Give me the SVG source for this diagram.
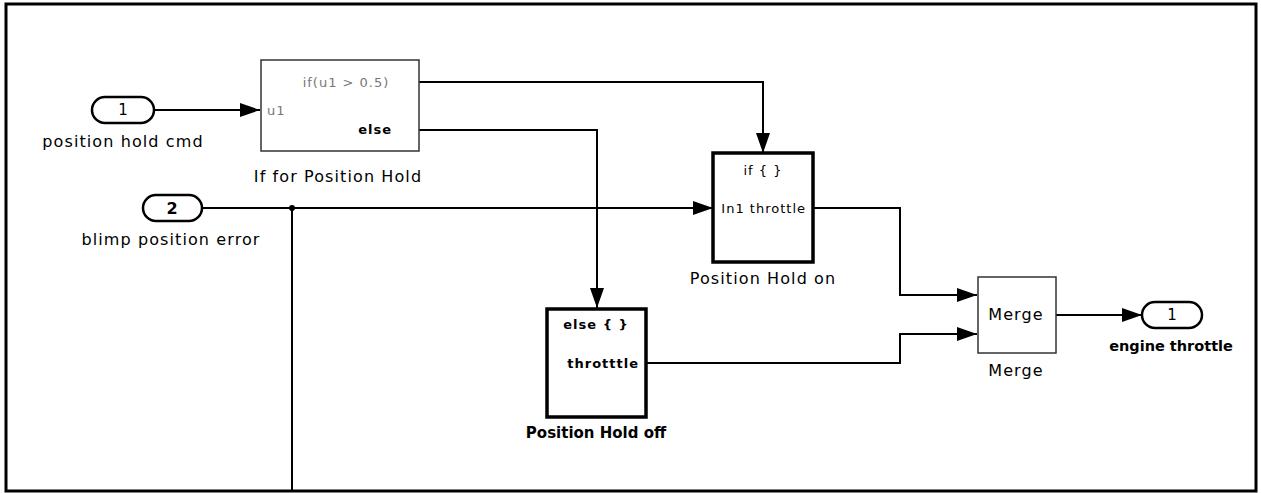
<svg xmlns="http://www.w3.org/2000/svg" width="1261" height="493" viewBox="0 0 1261 493">
<style>
  text { font-family: "DejaVu Sans", "Liberation Sans", sans-serif; fill: #000; }
  .lbl { font-size: 16px; letter-spacing: 1.1px; }
  .in { font-size: 13px; letter-spacing: 1px; }
  .gray { fill: #777; }
  .port { fill: #fff; stroke: #000; stroke-width: 2.5; }
  .thin { fill: #fff; stroke: #333; stroke-width: 1.5; }
  .thick { fill: #fff; stroke: #000; stroke-width: 3.5; }
  .wire { fill: none; stroke: #000; stroke-width: 2; }
</style>
<defs>
  <marker id="arr" markerUnits="userSpaceOnUse" markerWidth="20" markerHeight="14" refX="20" refY="7" orient="auto">
    <path d="M0,0 L20,7 L0,14 z" fill="#000"/>
  </marker>
</defs>
<rect x="0" y="0" width="1261" height="493" fill="#fff"/>
<rect x="6" y="4" width="1250" height="487" fill="none" stroke="#000" stroke-width="3"/>

<g id="connectors">
  <path class="wire" d="M154,110 L260,110" marker-end="url(#arr)"/>
  <path class="wire" d="M419,82 L763,82 L763,153" marker-end="url(#arr)"/>
  <path class="wire" d="M419,130 L597,130 L597,308" marker-end="url(#arr)"/>
  <path class="wire" d="M202,208 L713,208" marker-end="url(#arr)"/>
  <path class="wire" d="M292,208 L292,491"/>
  <circle cx="292" cy="208" r="3" fill="#000"/>
  <path class="wire" d="M813,208 L900,208 L900,295 L977,295" marker-end="url(#arr)"/>
  <path class="wire" d="M646,363 L900,363 L900,334 L977,334" marker-end="url(#arr)"/>
  <path class="wire" d="M1056,315 L1142,315" marker-end="url(#arr)"/>
</g>

<g id="in1">
  <rect class="port" x="92" y="97" width="62" height="26" rx="13"/>
  <text x="123" y="115" font-size="15" text-anchor="middle">1</text>
  <text class="lbl" x="123" y="147" text-anchor="middle">position hold cmd</text>
</g>

<g id="in2">
  <rect class="port" x="143" y="195" width="59" height="26" rx="13"/>
  <text x="172" y="214" font-size="16" font-weight="bold" text-anchor="middle">2</text>
  <text class="lbl" x="171" y="245" text-anchor="middle">blimp position error</text>
</g>

<g id="ifblock">
  <rect class="thin" x="261" y="60" width="158" height="91"/>
  <text class="in gray" x="346" y="87" text-anchor="middle" font-size="14">if(u1 &gt; 0.5)</text>
  <text class="in gray" x="267" y="115">u1</text>
  <text class="in" x="392" y="134" text-anchor="end" font-weight="bold">else</text>
  <text class="lbl" x="338" y="182" text-anchor="middle">If for Position Hold</text>
</g>

<g id="holdon">
  <rect class="thick" x="713" y="153" width="100" height="109"/>
  <text class="in" x="763" y="175" text-anchor="middle">if { }</text>
  <text class="in" x="806" y="213" text-anchor="end">In1 throttle</text>
  <text class="lbl" x="763" y="284" text-anchor="middle">Position Hold on</text>
</g>

<g id="holdoff">
  <rect class="thick" x="547" y="309" width="99" height="108"/>
  <text class="in" x="596" y="329" text-anchor="middle" font-weight="bold">else { }</text>
  <text class="in" x="639" y="368" text-anchor="end" font-weight="bold" letter-spacing="0.3">throtttle</text>
  <text x="596" y="438" font-size="15" text-anchor="middle" font-weight="bold">Position Hold off</text>
</g>

<g id="merge">
  <rect class="thin" x="978" y="277" width="78" height="76"/>
  <text class="lbl" x="1016" y="320" text-anchor="middle">Merge</text>
  <text class="lbl" x="1016" y="376" text-anchor="middle">Merge</text>
</g>

<g id="out1">
  <rect class="port" x="1142" y="302" width="60" height="26" rx="13"/>
  <text x="1172" y="320" font-size="15" text-anchor="middle">1</text>
  <text x="1171" y="351" font-size="14.5" text-anchor="middle" font-weight="bold">engine throttle</text>
</g>
</svg>
